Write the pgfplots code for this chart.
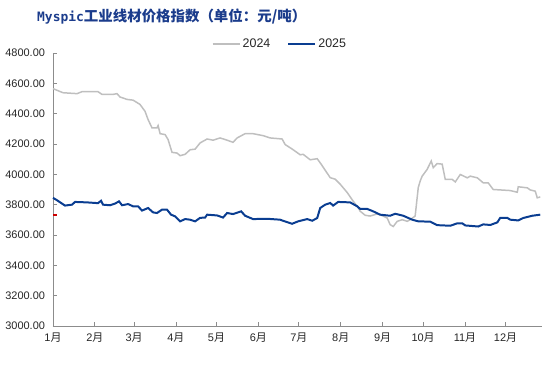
\documentclass[border=0pt]{standalone}
\usepackage{pgfplots}
\pgfplotsset{compat=1.18}
\usepackage{fontspec}
\setmainfont{Liberation Sans}
\newfontfamily\cjk{Noto Sans CJK SC}
\newfontfamily\mono{DejaVu Sans Mono}
\definecolor{c24}{HTML}{BFBFBF}
\definecolor{c25}{HTML}{0A3D91}
\definecolor{titleblue}{HTML}{1B3C8C}
\definecolor{axgray}{HTML}{8C8C8C}
\definecolor{txt}{HTML}{262626}
\begin{document}
\begin{tikzpicture}
\useasboundingbox (-53bp,-39bp) rectangle (501bp,326bp);
\begin{axis}[
  at={(0,0)}, anchor=south west,
  scale only axis, width=489bp, height=273bp,
  xmin=0, xmax=362, ymin=3000, ymax=4800,
  axis x line=bottom, axis y line=left,
  axis line style={-, draw=axgray, line width=0.8pt},
  tick align=inside, major tick length=4bp,
  tick style={draw=axgray, line width=0.8pt},
  xtick={0,31,60,91,121,152,182,213,244,274,305,335},
  xticklabels={1{\cjk 月},2{\cjk 月},3{\cjk 月},4{\cjk 月},5{\cjk 月},6{\cjk 月},7{\cjk 月},8{\cjk 月},9{\cjk 月},10{\cjk 月},11{\cjk 月},12{\cjk 月}},
  ytick={3000,3200,...,4800},
  /pgf/number format/fixed, /pgf/number format/fixed zerofill, /pgf/number format/precision=2,
  /pgf/number format/set thousands separator={}, /pgf/number format/assume math mode=true,
  ticklabel style={font=\fontsize{11}{13}\selectfont, text=txt},
  xticklabel style={yshift=-3bp},
  yticklabel style={xshift=-4.5bp},
  legend style={at={(0.464,1)}, anchor=center, yshift=9bp, draw=none, fill=none,
    font=\fontsize{12.5}{14}\selectfont, text=txt, legend columns=2,
    nodes={inner sep=2bp},
    /tikz/every even column/.append style={column sep=15bp}},
  legend image code/.code={\draw[#1, line width=2pt] (0bp,0bp) -- (27bp,0bp);},
  clip=false,
]
\addplot[c24, line width=1.5pt] coordinates {
(0,4565)(7.4,4538)(17.8,4532)(21.5,4545)(33.3,4545)(36.3,4527)(44.4,4527)(47.4,4532)(49.6,4510)
(54.8,4494)(59.3,4489)(64.4,4461)(68.1,4416)(70.4,4361)(73.3,4306)(77,4306)(77.8,4321)(79.3,4268)
(83,4262)(85.2,4229)(88.1,4145)(91.9,4140)(94.1,4123)(97.8,4132)(101.5,4162)(105.2,4166)
(108.9,4207)(114.1,4233)(118.5,4225)(123.7,4240)(128.9,4225)(133.3,4211)(136.3,4240)(142.2,4268)
(148.1,4268)(155.6,4255)(160.7,4240)(169.6,4233)(171.9,4196)(177,4167)(183,4129)(185.2,4132)
(190.4,4096)(195.6,4103)(198.5,4067)(205.2,3978)(208.9,3968)(212.6,3935)(217.8,3880)(222.2,3823)
(225.2,3790)(227.4,3757)(231.1,3730)(234.8,3725)(240,3739)(244.4,3725)(247.4,3712)(249.6,3668)
(251.9,3656)(254.8,3690)(258.5,3701)(262.2,3690)(264.4,3701)(268.1,3725)(270.4,3913)(271.9,3958)
(273.3,3988)(277,4033)(280,4088)(281.5,4044)(284.4,4071)(288.1,4067)(290.4,3966)(295.6,3966)
(297.8,3950)(301.5,3999)(306.7,3977)(308.9,3988)(314.1,3977)(318.5,3944)(322.2,3944)(323.7,3926)
(325.9,3900)(338.5,3893)(343.7,3882)(344.4,3918)(351.1,3911)(353.3,3897)(357,3889)(358.5,3845)
(360.7,3851)
};
\addlegendentry{2024}
\addplot[c25, line width=2pt] coordinates {
(0,3845)(3,3829)(6.7,3807)(8.9,3794)(14.1,3800)(16.3,3818)(25.2,3815)(33.3,3810)(35.6,3826)
(37,3800)(42.2,3796)(45.9,3807)(48.9,3822)(51.1,3796)(55.6,3804)(59.3,3789)(63,3789)(65.9,3761)
(70.4,3778)(74.1,3749)(77,3745)(80.7,3767)(84.4,3767)(87.4,3734)(90.4,3723)(94.1,3690)(97.8,3705)
(101.5,3701)(105.2,3690)(108.9,3713)(112.6,3715)(114.1,3734)(121.5,3729)(125.9,3715)(128.9,3745)
(133.3,3738)(139.3,3756)(142.2,3727)(148.1,3705)(158.5,3707)(168.1,3701)(169.6,3696)(177,3674)
(181.5,3690)(188.1,3705)(191.9,3694)(195.6,3712)(197.8,3778)(201.5,3800)(205.2,3811)(207.4,3794)
(211.1,3818)(220,3815)(225.2,3789)(227.4,3772)(232.6,3772)(237,3756)(242.2,3734)(249.6,3727)
(253.3,3740)(259.3,3727)(265.9,3701)(270.4,3690)(279.3,3688)(284.4,3665)(294.1,3661)(299.3,3677)
(303,3677)(305.2,3663)(314.8,3656)(318.5,3670)(323.7,3666)(328.9,3683)(331.1,3713)(336.3,3713)
(338.5,3701)(344.4,3696)(348.1,3712)(354.8,3727)(360.7,3734)
};
\addlegendentry{2025}
\addplot[red!80!black, line width=1.5pt, forget plot] coordinates {(0.3,3732)(3.2,3732)};
\end{axis}
\node[anchor=west, text=titleblue, inner sep=0pt] at (-16bp,309bp) {{\mono\bfseries\fontsize{13}{15}\selectfont Myspic}{\cjk\bfseries\fontsize{14.5}{16}\selectfont 工业线材价格指数（单位：元/吨）}};
\end{tikzpicture}
\end{document}
